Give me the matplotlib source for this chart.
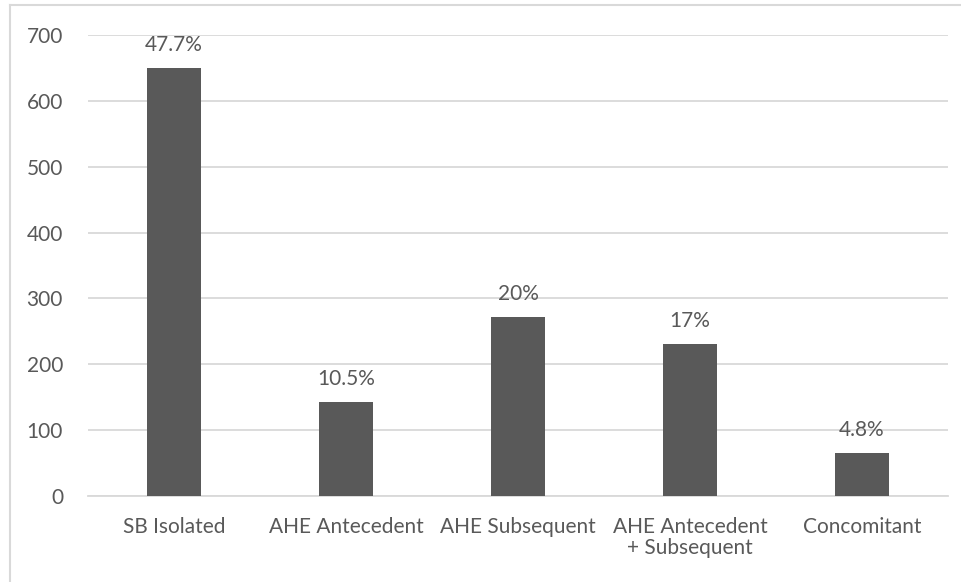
import matplotlib.pyplot as plt
from matplotlib.lines import Line2D

# Case counts per group and their share of the total
categories = ["SB Isolated", "AHE Antecedent", "AHE Subsequent",
              "AHE Antecedent\n+ Subsequent", "Concomitant"]
counts = [650, 142, 272, 231, 65]
shares = ["47.7%", "10.5%", "20%", "17%", "4.8%"]
yticks = [0, 100, 200, 300, 400, 500, 600, 700]

text_color = "#595959"
bar_color = "#595959"
grid_color = "#d9d9d9"

plt.rcParams["font.family"] = ["Lato", "DejaVu Sans"]

fig = plt.figure(figsize=(9.62, 5.82), dpi=100)
ax = fig.add_axes([88 / 962, 86 / 582, 860 / 962, 461 / 582])

x = range(len(categories))
bars = ax.bar(x, counts, width=0.315, color=bar_color, zorder=3)
for rect, label in zip(bars, shares):
    ax.annotate(label, (rect.get_x() + rect.get_width() / 2, rect.get_height()),
                xytext=(0, 9.5), textcoords="offset points",
                ha="center", va="bottom", fontsize=15, color=text_color)

ax.set_xlim(-0.5, len(categories) - 0.5)
ax.set_ylim(0, 700)
ax.set_yticks(yticks)
ax.set_xticks(list(x))
ax.set_xticklabels(categories, linespacing=1.1)
ax.grid(axis="y", color=grid_color, linewidth=1.3, zorder=0)
ax.tick_params(axis="both", length=0, labelsize=15, labelcolor=text_color)
ax.tick_params(axis="y", pad=18)
ax.tick_params(axis="x", pad=15)
for side in ["top", "right", "left"]:
    ax.spines[side].set_visible(False)
ax.spines["bottom"].set_color(grid_color)
ax.spines["bottom"].set_linewidth(1.3)

# Chart frame: only the top and left edges show
fig.add_artist(Line2D([10 / 962, 10 / 962], [0, 1 - 5 / 582],
                      transform=fig.transFigure, color=grid_color, linewidth=1.5))
fig.add_artist(Line2D([10 / 962, 1], [1 - 5 / 582, 1 - 5 / 582],
                      transform=fig.transFigure, color=grid_color, linewidth=1.5))

fig.savefig("out.png", dpi=100)
